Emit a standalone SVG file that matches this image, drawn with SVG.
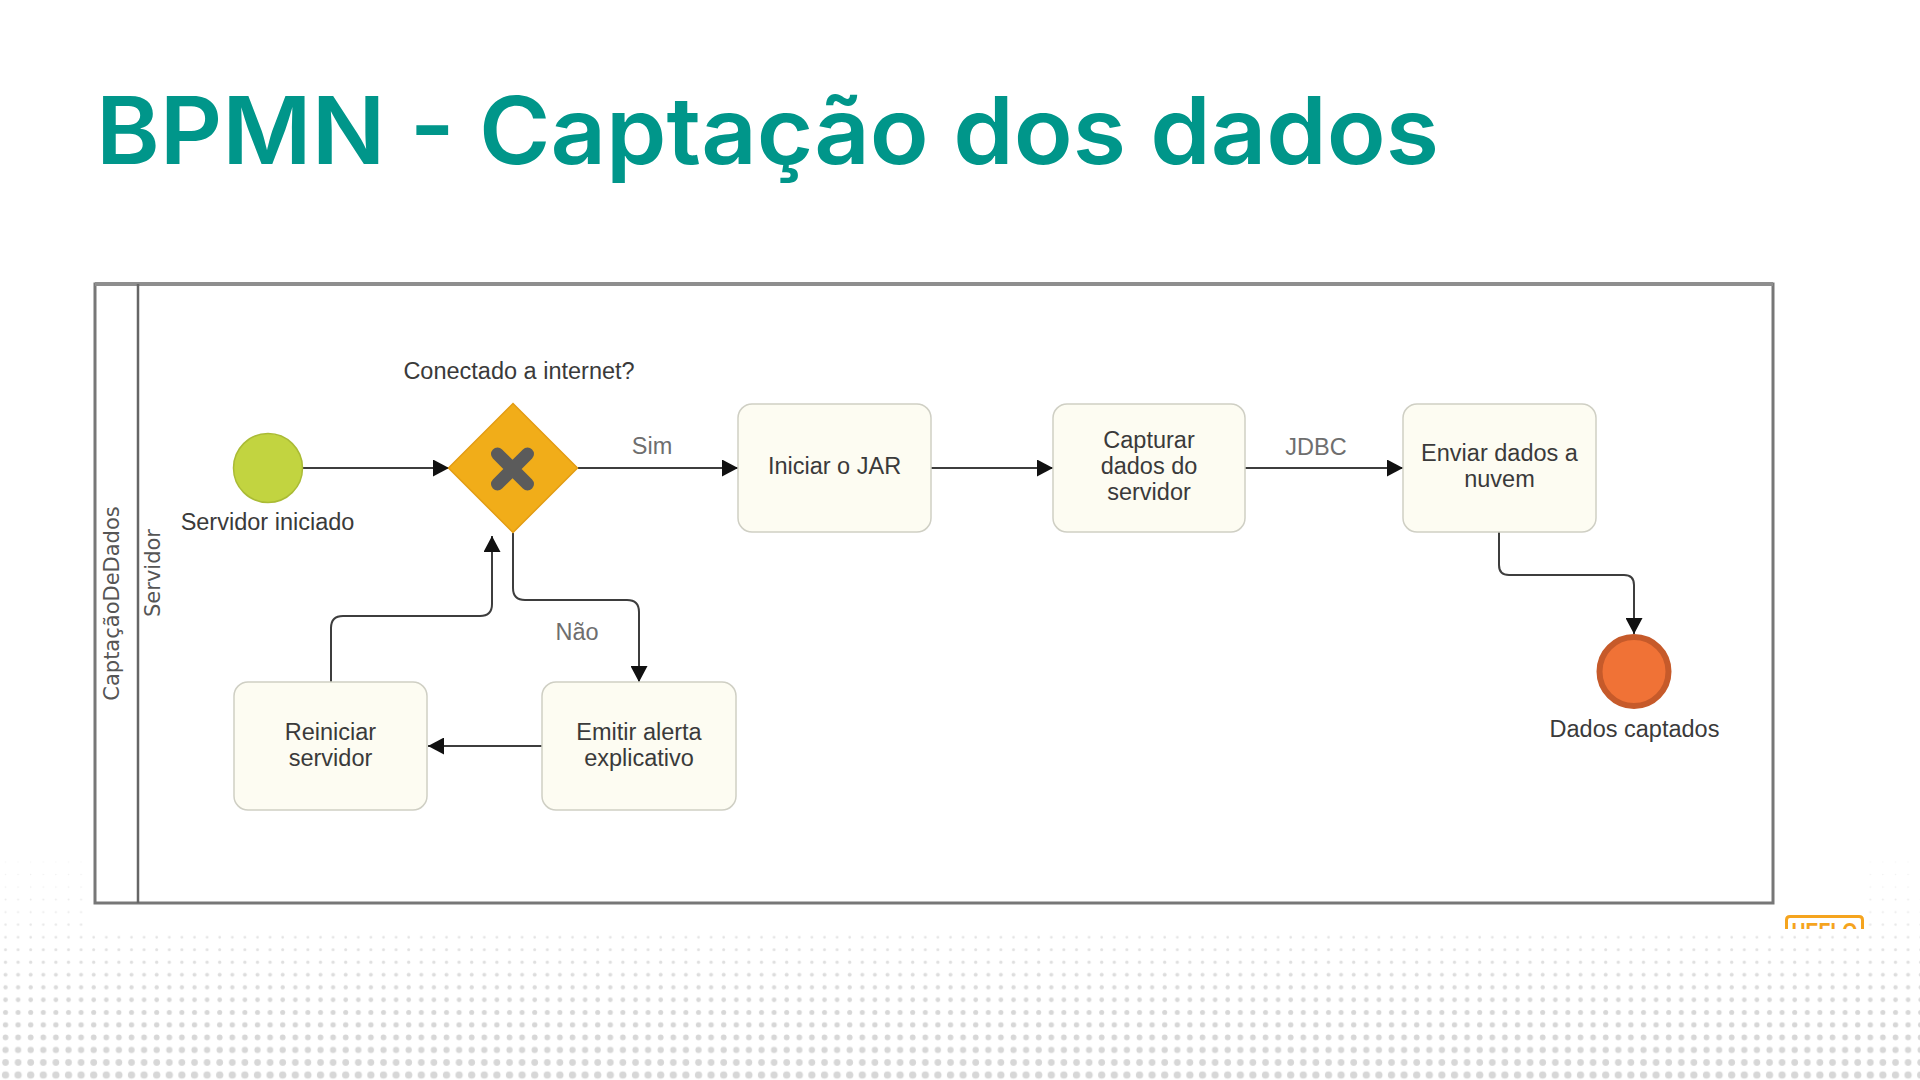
<svg xmlns="http://www.w3.org/2000/svg" width="1920" height="1080" viewBox="0 0 1920 1080">
  <style>
    .title { font-family: Inter, "Liberation Sans", Arial, sans-serif; font-weight: 600; font-size: 93px; fill: #00968a; }
    .lane { font-family: "DejaVu Sans", sans-serif; font-size: 21px; fill: #555; }
    .lbl { font-family: "Liberation Sans", Arial, sans-serif; font-size: 23.5px; fill: #3a3a3a; text-anchor: middle; }
    .elbl { font-family: "Liberation Sans", Arial, sans-serif; font-size: 23.5px; fill: #6e6e6e; text-anchor: middle; }
    .task { fill: #fdfcf2; stroke: #cfcfc4; stroke-width: 1.5; }
    .edge { fill: none; stroke: #3d3d3d; stroke-width: 2; marker-end: url(#arrow); }
    .dot circle { fill: #d7d7d7; }
  </style>
  <defs>
    <marker id="arrow" markerUnits="userSpaceOnUse" markerWidth="17" markerHeight="17" refX="16" refY="8.5" orient="auto">
      <path d="M0,0 L16,8.5 L0,17 Z" fill="#111"/>
    </marker>
    <!-- dotted backdrop rows, growing toward the bottom -->
    <pattern id="d0" class="dot" patternUnits="userSpaceOnUse" x="0" y="855.73" width="12.6" height="12.53"><circle cx="5.5" cy="6.27" r="0.6"/></pattern>
    <pattern id="d1" class="dot" patternUnits="userSpaceOnUse" x="0" y="868.26" width="12.6" height="12.53"><circle cx="5.5" cy="6.27" r="0.7"/></pattern>
    <pattern id="d2" class="dot" patternUnits="userSpaceOnUse" x="0" y="880.79" width="12.6" height="12.53"><circle cx="5.5" cy="6.27" r="0.8"/></pattern>
    <pattern id="d3" class="dot" patternUnits="userSpaceOnUse" x="0" y="893.32" width="12.6" height="12.53"><circle cx="5.5" cy="6.27" r="0.95"/></pattern>
    <pattern id="d4" class="dot" patternUnits="userSpaceOnUse" x="0" y="905.85" width="12.6" height="12.53"><circle cx="5.5" cy="6.27" r="1.05"/></pattern>
    <pattern id="d5" class="dot" patternUnits="userSpaceOnUse" x="0" y="918.38" width="12.6" height="12.53"><circle cx="5.5" cy="6.27" r="1.2"/></pattern>
    <pattern id="d6" class="dot" patternUnits="userSpaceOnUse" x="0" y="930.91" width="12.6" height="12.53"><circle cx="5.5" cy="6.27" r="1.33"/></pattern>
    <pattern id="d7" class="dot" patternUnits="userSpaceOnUse" x="0" y="943.44" width="12.6" height="12.53"><circle cx="5.5" cy="6.27" r="1.5"/></pattern>
    <pattern id="d8" class="dot" patternUnits="userSpaceOnUse" x="0" y="955.97" width="12.6" height="12.53"><circle cx="5.5" cy="6.27" r="1.67"/></pattern>
    <pattern id="d9" class="dot" patternUnits="userSpaceOnUse" x="0" y="968.5" width="12.6" height="12.53"><circle cx="5.5" cy="6.27" r="1.95"/></pattern>
    <pattern id="d10" class="dot" patternUnits="userSpaceOnUse" x="0" y="981.03" width="12.6" height="12.53"><circle cx="5.5" cy="6.27" r="2.15"/></pattern>
    <pattern id="d11" class="dot" patternUnits="userSpaceOnUse" x="0" y="993.56" width="12.6" height="12.53"><circle cx="5.5" cy="6.27" r="2.33"/></pattern>
    <pattern id="d12" class="dot" patternUnits="userSpaceOnUse" x="0" y="1006.09" width="12.6" height="12.53"><circle cx="5.5" cy="6.27" r="2.5"/></pattern>
    <pattern id="d13" class="dot" patternUnits="userSpaceOnUse" x="0" y="1018.62" width="12.6" height="12.53"><circle cx="5.5" cy="6.27" r="2.67"/></pattern>
    <pattern id="d14" class="dot" patternUnits="userSpaceOnUse" x="0" y="1031.15" width="12.6" height="12.53"><circle cx="5.5" cy="6.27" r="2.85"/></pattern>
    <pattern id="d15" class="dot" patternUnits="userSpaceOnUse" x="0" y="1043.68" width="12.6" height="12.53"><circle cx="5.5" cy="6.27" r="3.1"/></pattern>
    <pattern id="d16" class="dot" patternUnits="userSpaceOnUse" x="0" y="1056.21" width="12.6" height="12.53"><circle cx="5.5" cy="6.27" r="3.35"/></pattern>
    <pattern id="d17" class="dot" patternUnits="userSpaceOnUse" x="0" y="1068.74" width="12.6" height="12.53"><circle cx="5.5" cy="6.27" r="3.65"/></pattern>
    <clipPath id="logoClip"><rect x="1780" y="905" width="90" height="24"/></clipPath>
  </defs>

  <rect width="1920" height="1080" fill="#fff"/>

  <!-- dotted backdrop -->
  <g id="backdrop">
    <rect x="0" y="855.73" width="1920" height="12.53" fill="url(#d0)" fill-opacity="0.35"/>
    <rect x="0" y="868.26" width="1920" height="12.53" fill="url(#d1)" fill-opacity="0.4"/>
    <rect x="0" y="880.79" width="1920" height="12.53" fill="url(#d2)" fill-opacity="0.45"/>
    <rect x="0" y="893.32" width="1920" height="12.53" fill="url(#d3)" fill-opacity="0.5"/>
    <rect x="0" y="905.85" width="1920" height="12.53" fill="url(#d4)" fill-opacity="0.55"/>
    <rect x="0" y="918.38" width="1920" height="12.53" fill="url(#d5)" fill-opacity="0.6"/>
    <rect x="0" y="930.91" width="1920" height="12.53" fill="url(#d6)" fill-opacity="0.7"/>
    <rect x="0" y="943.44" width="1920" height="12.53" fill="url(#d7)" fill-opacity="0.75"/>
    <rect x="0" y="955.97" width="1920" height="12.53" fill="url(#d8)" fill-opacity="0.8"/>
    <rect x="0" y="968.5" width="1920" height="12.53" fill="url(#d9)" fill-opacity="0.85"/>
    <rect x="0" y="981.03" width="1920" height="12.53" fill="url(#d10)" fill-opacity="0.9"/>
    <rect x="0" y="993.56" width="1920" height="12.53" fill="url(#d11)" fill-opacity="0.95"/>
    <rect x="0" y="1006.09" width="1920" height="12.53" fill="url(#d12)"/>
    <rect x="0" y="1018.62" width="1920" height="12.53" fill="url(#d13)"/>
    <rect x="0" y="1031.15" width="1920" height="12.53" fill="url(#d14)"/>
    <rect x="0" y="1043.68" width="1920" height="12.53" fill="url(#d15)"/>
    <rect x="0" y="1056.21" width="1920" height="12.53" fill="url(#d16)"/>
    <rect x="0" y="1068.74" width="1920" height="12.53" fill="url(#d17)"/>
    <!-- white canvas of the diagram panel -->
    <rect x="87" y="840" width="1779" height="91" fill="#fff"/>
  </g>

  <text class="title" x="96" y="164" textLength="1343" lengthAdjust="spacingAndGlyphs">BPMN - Captação dos dados</text>

  <!-- pool and lane -->
  <g id="pool">
    <rect x="95" y="284" width="1678" height="619" fill="none" stroke="#777" stroke-width="3"/>
    <line x1="95" y1="284" x2="1773" y2="284" stroke="#8e8e8e" stroke-width="4"/>
    <line x1="138" y1="284" x2="138" y2="903" stroke="#666" stroke-width="2.5"/>
    <text class="lane" transform="translate(119,603.5) rotate(-90)" text-anchor="middle">CaptaçãoDeDados</text>
    <text class="lane" transform="translate(160,573) rotate(-90)" text-anchor="middle">Servidor</text>
  </g>

  <!-- sequence flows -->
  <g id="connectors">
    <path class="edge" d="M302.5,468 H449"/>
    <path class="edge" d="M578,468 H738"/>
    <path class="edge" d="M931,468 H1053"/>
    <path class="edge" d="M1245,468 H1403"/>
    <path class="edge" d="M1499,532 V565 Q1499,575 1509,575 H1624 Q1634,575 1634,585 V634"/>
    <path class="edge" d="M513,533 V588 Q513,600 525,600 H627 Q639,600 639,612 V682"/>
    <path class="edge" d="M542,746 H428"/>
    <path class="edge" d="M331,682 V628 Q331,616 343,616 H480 Q492,616 492,604 V536"/>
    <text class="elbl" x="652" y="454">Sim</text>
    <text class="elbl" x="1316" y="455">JDBC</text>
    <text class="elbl" x="577" y="640">Não</text>
  </g>

  <g id="start">
    <circle cx="268" cy="468" r="34.5" fill="#c2d440" stroke="#aabb35" stroke-width="1.5"/>
    <text class="lbl" x="267.5" y="530">Servidor iniciado</text>
  </g>

  <g id="gateway">
    <path d="M513,403.5 L577.5,468 L513,532.5 L448.5,468 Z" fill="#f1ad19" stroke="#e39c12" stroke-width="1.5"/>
    <path d="M497.5,454 L527.5,484 M527.5,454 L497.5,484" stroke="#5b5b5b" stroke-width="13" stroke-linecap="round"/>
    <text class="lbl" x="519" y="379">Conectado a internet?</text>
  </g>

  <g id="iniciar-jar">
    <rect class="task" x="738" y="404" width="193" height="128" rx="14"/>
    <text class="lbl" x="834.5" y="473.5">Iniciar o JAR</text>
  </g>

  <g id="capturar-dados">
    <rect class="task" x="1053" y="404" width="192" height="128" rx="14"/>
    <text class="lbl" x="1149" y="447.5">Capturar</text>
    <text class="lbl" x="1149" y="473.5">dados do</text>
    <text class="lbl" x="1149" y="499.5">servidor</text>
  </g>

  <g id="enviar-nuvem">
    <rect class="task" x="1403" y="404" width="193" height="128" rx="14"/>
    <text class="lbl" x="1499.5" y="461">Enviar dados a</text>
    <text class="lbl" x="1499.5" y="487">nuvem</text>
  </g>

  <g id="emitir-alerta">
    <rect class="task" x="542" y="682" width="194" height="128" rx="14"/>
    <text class="lbl" x="639" y="740">Emitir alerta</text>
    <text class="lbl" x="639" y="766">explicativo</text>
  </g>

  <g id="reiniciar-servidor">
    <rect class="task" x="234" y="682" width="193" height="128" rx="14"/>
    <text class="lbl" x="330.5" y="740">Reiniciar</text>
    <text class="lbl" x="330.5" y="766">servidor</text>
  </g>

  <g id="end">
    <circle cx="1634" cy="671.5" r="34.5" fill="#f07236" stroke="#c65a2a" stroke-width="6"/>
    <text class="lbl" x="1634.5" y="737">Dados captados</text>
  </g>

  <!-- brand mark, cut off at the panel edge -->
  <g id="brand" clip-path="url(#logoClip)">
    <path d="M1786.5,931 V920 Q1786.5,916.5 1790,916.5 H1859 Q1862.5,916.5 1862.5,920 V931" fill="none" stroke="#f5a41e" stroke-width="3"/>
    <text x="1824.5" y="940" font-family="Liberation Sans, Arial, sans-serif" font-weight="700" font-size="24" fill="#f5a41e" text-anchor="middle" textLength="66" lengthAdjust="spacingAndGlyphs">HEFLO</text>
  </g>
</svg>
